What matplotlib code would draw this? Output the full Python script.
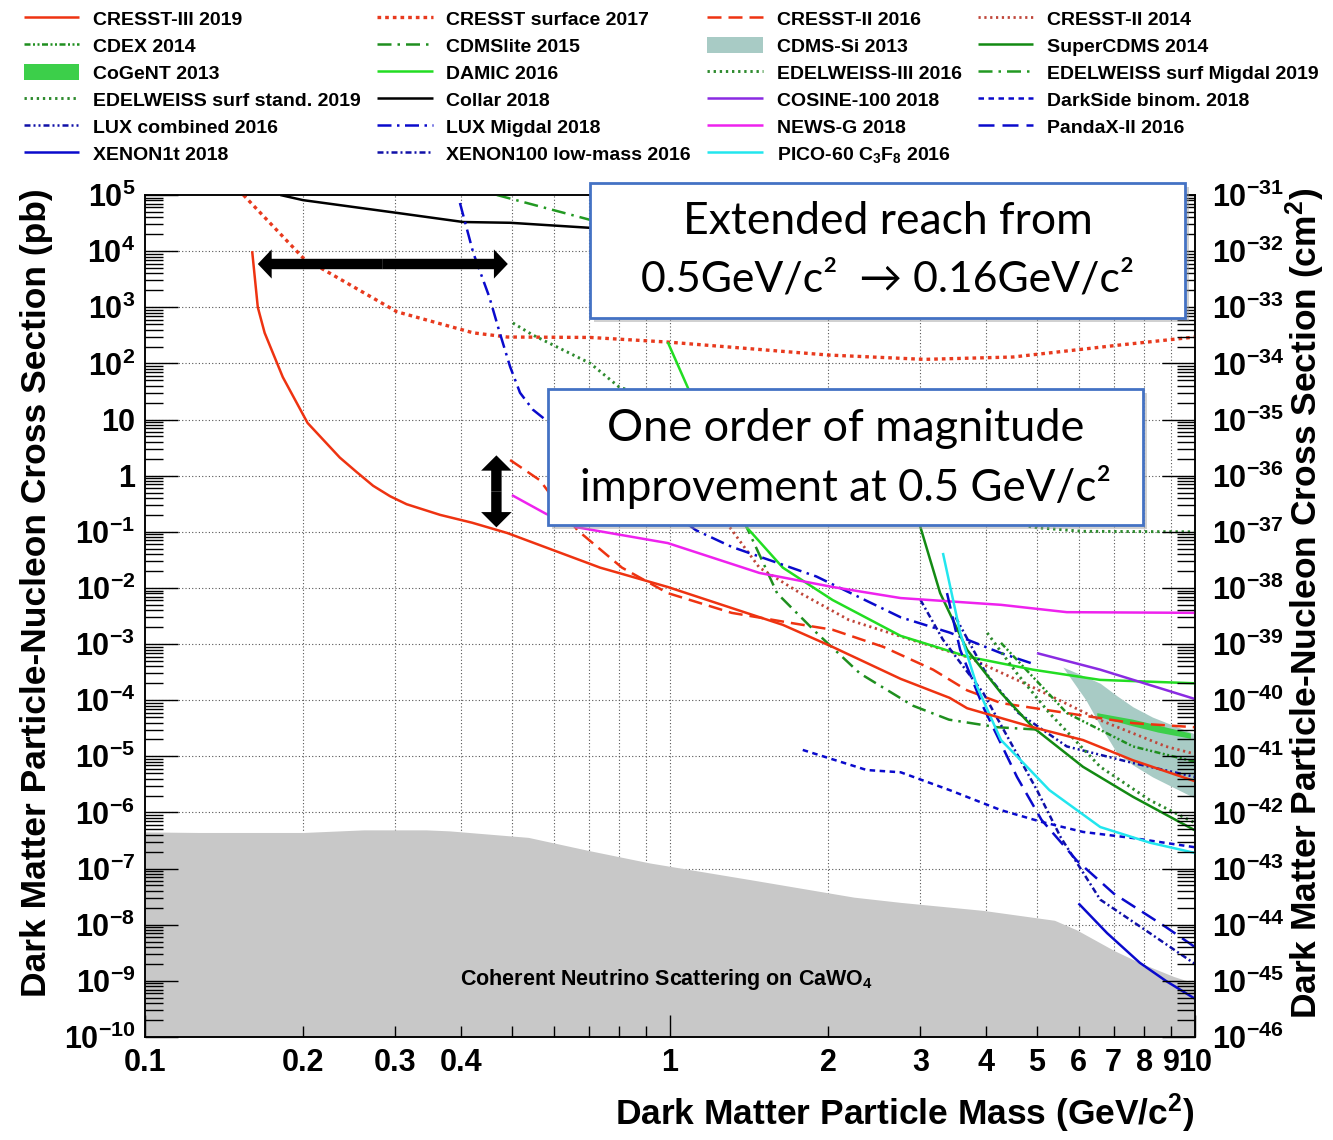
import numpy as np
import matplotlib
matplotlib.use("Agg")
import matplotlib.pyplot as plt
from matplotlib.patches import Rectangle, FancyArrowPatch
from matplotlib.ticker import FixedLocator, FixedFormatter, NullFormatter

# ---------------------------------------------------------------- data
# WIMP mass in GeV/c^2, cross section in pb
cresst3_2019_m = [0.16, 0.164, 0.169, 0.183, 0.204, 0.235, 0.253, 0.272, 0.293, 0.315, 0.365, 0.42, 0.49, 0.736, 0.99, 1.64, 2.04, 2.75, 3.41, 3.68, 4.91, 6.12, 7.62, 10.0]
cresst3_2019_s = [1e4, 1e3, 350, 57, 8.7, 2.1, 1.16, 0.66, 0.43, 0.31, 0.2, 0.145, 0.095, 0.023, 0.0104, 2.2e-3, 8.9e-4, 2.4e-4, 1.1e-4, 7.2e-5, 3.3e-5, 1.95e-5, 8.5e-6, 3.6e-6]

cresst_surf_2017_m = [0.154, 0.2, 0.302, 0.422, 0.49, 0.705, 0.99, 2.0, 3.05, 4.5, 7.2, 10.0]
cresst_surf_2017_s = [1e5, 7.6e3, 830, 350, 295, 290, 240, 141, 118, 130, 213, 295]

cresst2_2016_m = [0.496, 0.565, 0.666, 0.81, 0.99, 1.31, 1.69, 2.04, 2.55, 3.17, 3.68, 4.27, 5.7, 7.62, 10.0]
cresst2_2016_s = [1.9, 0.83, 0.107, 0.023, 8.1e-3, 3.6e-3, 2.4e-3, 1.8e-3, 8.9e-4, 3.5e-4, 1.5e-4, 8.9e-5, 5.9e-5, 3.9e-5, 3.3e-5]

cresst2_2014_m = [1.3, 1.48, 1.77, 2.19, 2.96, 3.68, 4.91, 6.6, 8.8, 10.0]
cresst2_2014_s = [0.12, 0.023, 8.1e-3, 2.7e-3, 1.1e-3, 5.9e-4, 1.7e-4, 4.4e-5, 1.5e-5, 1.1e-5]

cdex_2014_m = [4.27, 5.7, 7.62, 10.0]
cdex_2014_s = [1.05e-3, 5.9e-5, 1.5e-5, 8.0e-6]

cdmslite_2015_m = [1.30, 1.40, 1.5, 1.6, 1.9, 2.3, 2.9, 3.4, 4.2, 5.0]
cdmslite_2015_s = [5.0, 0.12, 0.03, 8e-3, 1.6e-3, 3.0e-4, 8e-5, 4.5e-5, 3.3e-5, 3.0e-5]

cogent_2013_m = [6.5, 7.6, 8.5, 9.8]
cogent_2013_hi = [6.0e-5, 4.6e-5, 3.6e-5, 2.6e-5]
cogent_2013_lo = [5.2e-5, 3.5e-5, 2.7e-5, 2.1e-5]

damic_2016_m = [0.99, 1.08, 1.40, 1.64, 2.04, 2.75, 3.68, 4.91, 6.6, 10.0]
damic_2016_s = [240, 38, 0.12, 0.023, 6.1e-3, 1.4e-3, 6.0e-4, 3.5e-4, 2.3e-4, 2.0e-4]

edw_surf_std_2019_m = [0.502, 0.548, 0.705, 0.8, 4.9, 6.1, 10.0]
edw_surf_std_2019_s = [525, 320, 100, 38, 0.12, 0.102, 0.100]

collar_2018_m = [0.181, 0.2, 0.302, 0.404, 0.496, 0.705, 1.0, 1.5]
collar_2018_s = [1e5, 8.1e4, 4.8e4, 3.3e4, 3.2e4, 2.6e4, 2.1e4, 1.8e4]

lux_comb_2016_m = [3.5, 4.0, 4.6, 5.7, 7.62, 10.0]
lux_comb_2016_s = [3e-3, 3e-4, 6e-5, 1.5e-5, 7.6e-6, 4.3e-6]

lux_migdal_2018_m = [0.398, 0.422, 0.453, 0.474, 0.496, 0.518, 0.548, 0.58, 1.12, 1.31, 1.9, 2.75, 3.41, 4.27, 4.9]
lux_migdal_2018_s = [7.2e4, 9.3e3, 1.5e3, 350, 87, 30, 15, 9.8, 0.107, 0.054, 0.016, 3.0e-3, 1.6e-3, 6.9e-4, 4.5e-4]

xenon1t_2018_m = [6.0, 6.8, 7.85, 8.8, 10.0]
xenon1t_2018_s = [2.4e-8, 7.1e-9, 2.1e-9, 1.0e-9, 4.8e-10]

xenon100_lm_2016_m = [3.0, 3.31, 3.95, 5.0, 5.55, 6.6, 8.2, 10.0]
xenon100_lm_2016_s = [6.1e-3, 1.2e-3, 1.35e-4, 2.5e-6, 3.6e-7, 2.8e-8, 7.1e-9, 2.0e-9]

cdms_si_2013_m = [5.6, 6.2, 6.6, 7.1, 7.62, 8.3, 10.0]
cdms_si_2013_hi = [3.9e-4, 2.6e-4, 2.0e-4, 1.2e-4, 7.6e-5, 5.0e-5, 2.5e-5]
cdms_si_2013_lo = [3.9e-4, 1.0e-4, 3.5e-5, 1.15e-5, 7.0e-6, 4.3e-6, 1.8e-6]

supercdms_2014_m = [2.6, 3.0, 3.27, 3.68, 4.27, 4.91, 6.12, 7.62, 10.0]
supercdms_2014_s = [30, 0.12, 8.1e-3, 7.9e-4, 1.35e-4, 3.3e-5, 6.5e-6, 1.9e-6, 4.8e-7]

edw3_2016_m = [4.02, 4.58, 5.28, 6.6, 8.2, 10.0]
edw3_2016_s = [1.58e-3, 3.0e-4, 5.9e-5, 6.5e-6, 1.66e-6, 6.5e-7]

edw_surf_migdal_2019_m = [0.468, 0.705, 1.42]
edw_surf_migdal_2019_s = [1e5, 3.6e4, 6.1e3]

cosine_2018_m = [5.0, 6.6, 10.0]
cosine_2018_s = [6.9e-4, 3.5e-4, 1.05e-4]

darkside_2018_m = [1.79, 2.37, 2.75, 3.41, 4.27, 5.1, 6.12, 7.62, 10.0]
darkside_2018_s = [1.3e-5, 5.7e-6, 5.2e-6, 2.5e-6, 1.1e-6, 6.8e-7, 4.5e-7, 3.5e-7, 2.4e-7]

newsg_2018_m = [0.5, 0.58, 0.666, 0.99, 1.48, 2.04, 2.75, 4.27, 5.7, 10.0]
newsg_2018_s = [0.45, 0.21, 0.12, 0.063, 0.0185, 0.0104, 6.6e-3, 5.0e-3, 3.7e-3, 3.6e-3]

pandax_2016_m = [3.37, 3.57, 3.95, 4.58, 5.1, 5.95, 7.0, 8.8, 10.0]
pandax_2016_s = [8.1e-3, 7.9e-4, 7.6e-5, 4.3e-6, 7.4e-7, 1.4e-7, 3.6e-8, 9.1e-9, 4.0e-9]

pico60_2016_m = [3.31, 3.57, 3.85, 4.27, 4.58, 5.28, 6.6, 8.2, 10.0]
pico60_2016_s = [0.042, 1.6e-3, 1.7e-4, 1.95e-5, 1.0e-5, 2.5e-6, 5.5e-7, 2.9e-7, 1.9e-7]

# coherent neutrino scattering floor on CaWO4
nu_floor_m = [0.1, 0.127, 0.2, 0.261, 0.343, 0.38, 0.537, 0.7, 0.915, 1.43, 2.24, 2.75, 3.95, 5.4, 5.95, 7.0, 7.85, 9.1, 10.0]
nu_floor_s = [4.5e-7, 4.4e-7, 4.4e-7, 4.9e-7, 4.9e-7, 4.7e-7, 3.6e-7, 2.1e-7, 1.26e-7, 6.3e-8, 3.1e-8, 2.5e-8, 1.8e-8, 1.2e-8, 8.1e-9, 3.5e-9, 2.1e-9, 1.2e-9, 9.0e-10]

x_major = [0.1, 1, 10]
x_major_labels = ["0.1", "1", "10"]
x_minor = [0.2, 0.3, 0.4, 0.5, 0.6, 0.7, 0.8, 0.9, 2, 3, 4, 5, 6, 7, 8, 9]
x_minor_labels = ["0.2", "0.3", "0.4", "", "", "", "", "", "2", "3", "4", "5", "6", "7", "8", "9"]
pb_exponents = list(range(-10, 6))
cm2_exponents = list(range(-46, -30))

# ---------------------------------------------------------------- style
plt.rcParams["font.family"] = ["Liberation Sans", "DejaVu Sans"]
plt.rcParams["font.weight"] = "bold"
plt.rcParams["mathtext.fontset"] = "custom"
plt.rcParams["mathtext.rm"] = "Liberation Sans:bold"
plt.rcParams["mathtext.it"] = "Liberation Sans:bold"
plt.rcParams["mathtext.bf"] = "Liberation Sans:bold"

W, H = 1333, 1140
fig = plt.figure(figsize=(W / 100, H / 100), dpi=100)
ax = fig.add_axes([145 / W, 103 / H, 1050 / W, 842 / H])
ax.set_xscale("log")
ax.set_yscale("log")
ax.set_xlim(0.1, 10)
ax.set_ylim(1e-10, 1e5)

LW = 1.8


def curve(m, s, color, ls="-", lw=LW, z=3):
    ln, = ax.plot(m, s, color=color, ls=ls, lw=lw, zorder=z,
                  solid_capstyle="butt", dash_capstyle="butt")
    return ln


def band(m, lo, hi, color):
    return ax.fill_between(m, lo, hi, color=color, lw=0, zorder=2)


# neutrino floor
ax.fill_between(nu_floor_m, 1e-10, nu_floor_s, color="#c8c8c8", lw=0, zorder=1)

# dotted grid, kept underneath the neutrino floor and the curves
grid_kw = dict(color="#555555", lw=0.8, ls=(0, (1, 2)), zorder=0.8)
for e in pb_exponents[1:-1]:
    ax.axhline(10.0 ** e, **grid_kw)
for xv in x_minor + [1]:
    ax.axvline(xv, **grid_kw)

DOT = (0, (0.8, 1.3))
h = {}
h["cdms_si"] = band(cdms_si_2013_m, cdms_si_2013_lo, cdms_si_2013_hi, "#a8cbc5")
h["cogent"] = band(cogent_2013_m, cogent_2013_lo, cogent_2013_hi, "#3ccf4a")
h["cresst3"] = curve(cresst3_2019_m, cresst3_2019_s, "#ee3311", z=6)
h["cresst_surf"] = curve(cresst_surf_2017_m, cresst_surf_2017_s, "#e83a1e", ls=(0, (1.1, 1.2)), lw=2.4)
h["cresst2_16"] = curve(cresst2_2016_m, cresst2_2016_s, "#ee3311", ls=(0, (5.6, 2.8)))
h["cresst2_14"] = curve(cresst2_2014_m, cresst2_2014_s, "#c0463a", ls=DOT, lw=2.0)
h["cdex"] = curve(cdex_2014_m, cdex_2014_s, "#1f8f1f", ls=(0, (2.4, 1.0, 0.8, 1.0, 0.8, 1.0)))
h["cdmslite"] = curve(cdmslite_2015_m, cdmslite_2015_s, "#1f8f1f", ls=(0, (5.6, 2.4, 1.0, 2.4)))
h["damic"] = curve(damic_2016_m, damic_2016_s, "#22dd22")
h["edw_std"] = curve(edw_surf_std_2019_m, edw_surf_std_2019_s, "#2e8b2e", ls=DOT, lw=2.1)
h["collar"] = curve(collar_2018_m, collar_2018_s, "black")
h["lux_comb"] = curve(lux_comb_2016_m, lux_comb_2016_s, "#1010a8", ls=(0, (2.4, 1.2, 0.8, 1.2, 0.8, 1.2)))
h["lux_migdal"] = curve(lux_migdal_2018_m, lux_migdal_2018_s, "#0a0acc", ls=(0, (5.6, 2.2, 1.0, 2.2)))
h["xenon1t"] = curve(xenon1t_2018_m, xenon1t_2018_s, "#0a0acc")
h["xenon100"] = curve(xenon100_lm_2016_m, xenon100_lm_2016_s, "#1010a8", ls=(0, (2.4, 1.2, 0.8, 1.2)))
h["supercdms"] = curve(supercdms_2014_m, supercdms_2014_s, "#138a13")
h["edw3"] = curve(edw3_2016_m, edw3_2016_s, "#2e8b2e", ls=DOT, lw=2.1)
h["edw_migdal"] = curve(edw_surf_migdal_2019_m, edw_surf_migdal_2019_s, "#229922", ls=(0, (5.6, 2.4, 1.0, 2.4)))
h["cosine"] = curve(cosine_2018_m, cosine_2018_s, "#8a2be2")
h["darkside"] = curve(darkside_2018_m, darkside_2018_s, "#0a0acc", ls=(0, (2.2, 1.8)))
h["newsg"] = curve(newsg_2018_m, newsg_2018_s, "#ee22ee")
h["pandax"] = curve(pandax_2016_m, pandax_2016_s, "#0a0acc", ls=(0, (6.4, 3.2)))
h["pico"] = curve(pico60_2016_m, pico60_2016_s, "#22e6ee")

legend_items = [
    ("cresst3", "CRESST-III 2019"), ("cdex", "CDEX 2014"), ("cogent", "CoGeNT 2013"),
    ("edw_std", "EDELWEISS surf stand. 2019"), ("lux_comb", "LUX combined 2016"), ("xenon1t", "XENON1t 2018"),
    ("cresst_surf", "CRESST surface 2017"), ("cdmslite", "CDMSlite 2015"), ("damic", "DAMIC 2016"),
    ("collar", "Collar 2018"), ("lux_migdal", "LUX Migdal 2018"), ("xenon100", "XENON100 low-mass 2016"),
    ("cresst2_16", "CRESST-II 2016"), ("cdms_si", "CDMS-Si 2013"), ("edw3", "EDELWEISS-III 2016"),
    ("cosine", "COSINE-100 2018"), ("newsg", "NEWS-G 2018"), ("pico", r"PICO-60 C$_3$F$_8$ 2016"),
    ("cresst2_14", "CRESST-II 2014"), ("supercdms", "SuperCDMS 2014"), ("edw_migdal", "EDELWEISS surf Migdal 2019"),
    ("darkside", "DarkSide binom. 2018"), ("pandax", "PandaX-II 2016"),
]
fig.legend([h[k] for k, _ in legend_items], [t for _, t in legend_items],
           ncol=4, loc="upper left", bbox_to_anchor=(24 / W, 1 - 10 / H),
           frameon=False, borderpad=0, borderaxespad=0,
           prop=dict(family="Liberation Sans", weight="bold", size=14),
           handlelength=2.85, handleheight=0.9, handletextpad=0.7,
           columnspacing=0.85, labelspacing=0.42)

# ---------------------------------------------------------------- axes
TICK_FS = 22
ax.xaxis.set_major_locator(FixedLocator(x_major))
ax.xaxis.set_major_formatter(FixedFormatter(x_major_labels))
ax.xaxis.set_minor_locator(FixedLocator(x_minor))
ax.xaxis.set_minor_formatter(FixedFormatter(x_minor_labels))
ax.tick_params(axis="x", which="major", direction="in", length=16, width=1, top=False,
               labelsize=TICK_FS, pad=8)
ax.tick_params(axis="x", which="minor", direction="in", length=8, width=1, top=False,
               labelsize=TICK_FS, pad=8)

pb_labels = []
for e in pb_exponents:
    if e == 1:
        pb_labels.append("10")
    elif e == 0:
        pb_labels.append("1")
    else:
        pb_labels.append(r"$10^{%d}$" % e)
ax.yaxis.set_major_locator(FixedLocator([10.0 ** e for e in pb_exponents]))
ax.yaxis.set_major_formatter(FixedFormatter(pb_labels))
ax.yaxis.set_minor_locator(FixedLocator([k * 10.0 ** e for e in pb_exponents[:-1] for k in range(2, 10)]))
ax.yaxis.set_minor_formatter(NullFormatter())
ax.tick_params(axis="y", which="major", direction="in", length=24, width=1, right=False,
               labelsize=TICK_FS, pad=7)
ax.tick_params(axis="y", which="minor", direction="in", length=13, width=1, right=False)

ax2 = ax.twinx()
ax2.set_yscale("log")
ax2.set_ylim(1e-46, 1e-31)
ax2.yaxis.set_major_locator(FixedLocator([10.0 ** e for e in cm2_exponents]))
ax2.yaxis.set_major_formatter(FixedFormatter([r"$10^{%d}$" % e for e in cm2_exponents]))
ax2.yaxis.set_minor_locator(FixedLocator([k * 10.0 ** e for e in cm2_exponents[:-1] for k in range(2, 10)]))
ax2.yaxis.set_minor_formatter(NullFormatter())
ax2.tick_params(axis="y", which="major", direction="in", length=24, width=1, labelsize=TICK_FS, pad=12)
ax2.tick_params(axis="y", which="minor", direction="in", length=13, width=1)

for a in (ax, ax2):
    for sp in a.spines.values():
        sp.set_linewidth(1.1)

LABEL_FS = 25.5
fig.text(37 / W, 1 - 188 / H, "Dark Matter Particle-Nucleon Cross Section (pb)",
         rotation=90, ha="center", va="top", fontsize=LABEL_FS, fontweight="bold")
fig.text(1305 / W, 1 - 188 / H, r"Dark Matter Particle-Nucleon Cross Section (cm$^2$)",
         rotation=90, ha="center", va="top", fontsize=LABEL_FS, fontweight="bold")
fig.text(1195 / W, 1 - 1113 / H, r"Dark Matter Particle Mass (GeV/c$^2$)",
         ha="right", va="center", fontsize=LABEL_FS, fontweight="bold")

ax.text(0.3, 0.068, r"Coherent Neutrino Scattering on CaWO$_4$", transform=ax.transAxes,
        ha="left", va="center", fontsize=15.5, fontweight="bold", zorder=4)

# ---------------------------------------------------------------- arrows
def double_arrow(p0, p1, head_len, head_w, tail_w):
    mid = (np.sqrt(p0[0] * p1[0]), np.sqrt(p0[1] * p1[1]))
    style = "simple,head_length=%g,head_width=%g,tail_width=%g" % (head_len, head_w, tail_w)
    for tip in (p0, p1):
        ax.add_patch(FancyArrowPatch(mid, tip, arrowstyle=style, mutation_scale=1,
                                     color="black", lw=0, shrinkA=0, shrinkB=0, zorder=8))


double_arrow((0.164, 5.9e3), (0.491, 5.9e3), 10, 21, 7.5)
double_arrow((0.467, 2.3), (0.467, 0.12), 11, 22, 7.5)

# ---------------------------------------------------------------- callout boxes
def callout(x0, y0, x1, y1, lines, line_y, sizes):
    fig.add_artist(Rectangle(((x0 + 4) / W, 1 - (y1 + 4) / H), (x1 - x0) / W, (y1 - y0) / H,
                             transform=fig.transFigure, facecolor="#9a9a9a", alpha=0.45,
                             edgecolor="none", zorder=9))
    fig.add_artist(Rectangle((x0 / W, 1 - y1 / H), (x1 - x0) / W, (y1 - y0) / H,
                             transform=fig.transFigure, facecolor="white",
                             edgecolor="#4472c4", lw=2.0, zorder=10))
    xc = (x0 + x1) / 2
    for txt, yy, sz in zip(lines, line_y, sizes):
        fig.text(xc / W, 1 - yy / H, txt, ha="center", va="center", fontsize=sz,
                 fontweight="normal", family=["Lato", "DejaVu Sans"], zorder=11)


callout(590, 183, 1185, 318, ["Extended reach from", "0.5GeV/c\u00b2  \u2192 0.16GeV/c\u00b2"],
        [222, 280], [32, 30.8])
callout(548, 389, 1143, 525, ["One order of magnitude", "improvement at 0.5 GeV/c\u00b2"],
        [428, 487], [32.5, 31.6])

fig.savefig("out.png", dpi=100)
